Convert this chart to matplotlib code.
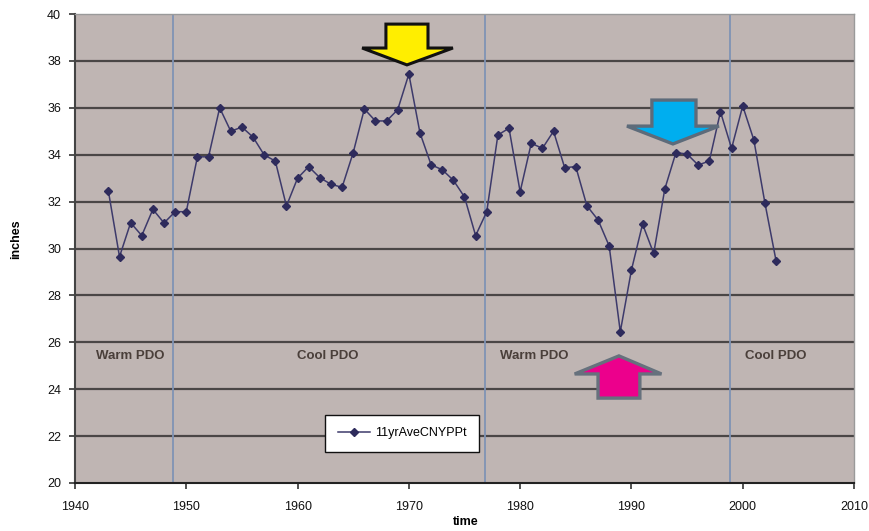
import matplotlib
matplotlib.use("Agg")
import matplotlib.pyplot as plt
from matplotlib.patches import Polygon

plt.rcParams['font.family'] = ['Liberation Sans', 'DejaVu Sans']

years = list(range(1943, 2004))
precip = [32.45, 29.65, 31.1, 30.55, 31.67, 31.09, 31.57, 31.57, 33.91, 33.91,
          36.0, 35.0, 35.18, 34.75, 33.99, 33.73, 31.81, 33.0, 33.49, 33.02,
          32.74, 32.61, 34.09, 35.95, 35.44, 35.44, 35.92, 37.44, 34.93, 33.57,
          33.36, 32.91, 32.2, 30.55, 31.57, 34.84, 35.13, 32.42, 34.49, 34.27,
          35.0, 33.45, 33.49, 31.82, 31.22, 30.11, 26.45, 29.08, 31.04, 29.79,
          32.54, 34.09, 34.03, 33.56, 33.73, 35.83, 34.27, 36.08, 34.63, 31.93,
          29.47]
series_name = "11yrAveCNYPPt"
regime_shifts = [1948.8, 1976.8, 1998.9]
regime_labels = ["Warm PDO", "Cool PDO", "Warm PDO", "Cool PDO"]
regime_label_x = [1945.0, 1962.7, 1981.3, 2003.0]
regime_label_y = 25.4
xticks = [1940, 1950, 1960, 1970, 1980, 1990, 2000, 2010]
yticks = list(range(20, 41, 2))

fig = plt.figure(figsize=(8.7, 5.31), dpi=100)
ax = fig.add_axes([0.0862, 0.0904, 0.8954, 0.8832])
ax.set_facecolor('#bfb5b3')
ax.set_xlim(1940, 2010)
ax.set_ylim(20, 40)

for yv in yticks[1:-1]:
    ax.axhline(yv, color='#4a4646', lw=1.6, zorder=1)
for xv in regime_shifts:
    ax.axvline(xv, color='#7f93b5', lw=1.3, zorder=1.5)

line, = ax.plot(years, precip, color='#3d3a6b', lw=1.1, marker='D', ms=4.2,
                mfc='#2e2b5c', mec='#2e2b5c', zorder=3, label=series_name)

for lab, lx in zip(regime_labels, regime_label_x):
    ax.text(lx, regime_label_y, lab, ha='center', va='center', fontsize=9.5,
            fontweight='bold', color='#4a3f3a', zorder=4)

def arrow(tipx, tipy, headx0, headx1, heady, shaftx0, shaftx1, endy, fc, ec, lw):
    pts = [(tipx, tipy), (headx0, heady), (shaftx0, heady), (shaftx0, endy),
           (shaftx1, endy), (shaftx1, heady), (headx1, heady)]
    ax.add_patch(Polygon(pts, closed=True, facecolor=fc, edgecolor=ec, lw=lw,
                         zorder=5, clip_on=False))

# yellow down arrow
arrow(1969.83, 37.83, 1965.8, 1973.96, 38.55, 1967.94, 1971.72, 39.57,
      '#ffee00', '#111111', 2.2)
# blue down arrow
arrow(1993.73, 34.46, 1989.6, 1997.86, 35.22, 1991.84, 1995.8, 36.33,
      '#00aeef', '#5d6b7a', 2.4)
# pink up arrow
arrow(1988.88, 25.42, 1984.9, 1992.7, 24.65, 1987.0, 1990.76, 23.62,
      '#ec008c', '#66717d', 2.4)

ax.set_xticks(xticks)
ax.set_yticks(yticks)
ax.tick_params(axis='both', direction='out', length=4, width=1.2, color='#333333',
               labelsize=9, labelcolor='#111111')
ax.tick_params(axis='x', pad=9)
ax.tick_params(axis='y', pad=6)
for s in ['top', 'right']:
    ax.spines[s].set_color('#9a9a9a')
    ax.spines[s].set_linewidth(1.0)
ax.spines['left'].set_color('#444444')
ax.spines['left'].set_linewidth(1.5)
ax.spines['bottom'].set_color('#222222')
ax.spines['bottom'].set_linewidth(1.5)

ax.set_ylabel('inches', fontsize=9, fontweight='bold')
ax.yaxis.set_label_coords(-0.068, 0.52)
ax.set_xlabel('time', fontsize=9, fontweight='bold')
ax.xaxis.set_label_coords(0.502, -0.071)

leg = ax.legend(handles=[line], loc='center', bbox_to_anchor=(0.42, 0.106),
                frameon=True, fancybox=False, fontsize=9, borderpad=1.0,
                handlelength=2.6, handletextpad=0.4, borderaxespad=0)
leg.get_frame().set_edgecolor('#111111')
leg.get_frame().set_linewidth(1.0)
leg.get_frame().set_facecolor('white')
leg.get_frame().set_alpha(1)
leg.set_zorder(6)

fig.savefig('out.png', dpi=100)
